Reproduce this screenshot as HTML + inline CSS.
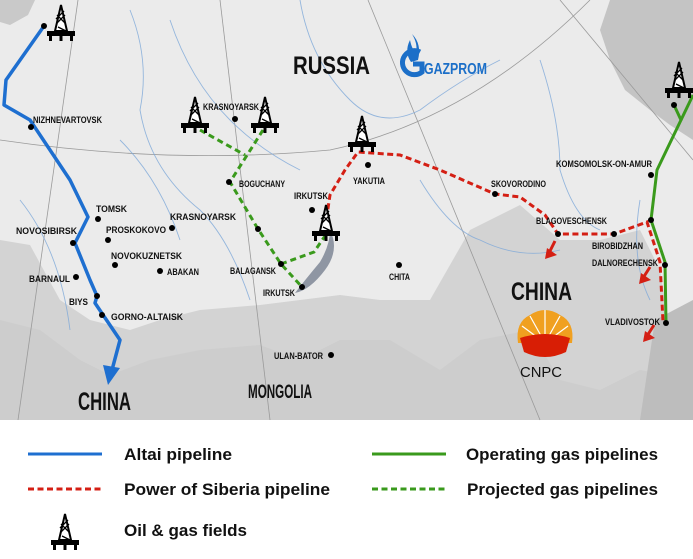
<!DOCTYPE html>
<html><head><meta charset="utf-8"><style>
html,body{margin:0;padding:0;background:#fff;}
svg{display:block;}
.l{font-family:"Liberation Sans",sans-serif;font-weight:bold;font-size:9.5px;fill:#111;}
.big{font-family:"Liberation Sans",sans-serif;font-weight:bold;font-size:25px;fill:#111;}
.lg{font-family:"Liberation Sans",sans-serif;font-weight:bold;font-size:17px;fill:#111;}
</style></head><body>
<svg width="693" height="559" viewBox="0 0 693 559" xmlns="http://www.w3.org/2000/svg">
<defs>
<g id="rig">
<polygon points="-6,26 0,0 6,26" fill="#fff" stroke="#000" stroke-width="2"/>
<path d="M-4,18 L4,10 M-4,10 L4,18 M-3,22 L5,26 M-5,14 L3,6" stroke="#000" stroke-width="1.3"/>
<rect x="-14" y="26" width="28" height="5" fill="#000"/>
<rect x="-12" y="31" width="3" height="5" fill="#000"/>
<rect x="-1.5" y="31" width="3" height="5" fill="#000"/>
<rect x="9" y="31" width="3" height="5" fill="#000"/>
</g>
</defs>
<rect x="0" y="0" width="693" height="420" fill="#ebebeb"/>
<path d="M0,0 L35,0 L28,15 L10,25 L0,22 Z" fill="#c9c9c9"/>
<path d="M610,0 L693,0 L693,140 L670,125 L650,110 L625,90 L610,60 L600,30 Z" fill="#c4c4c4"/>
<path d="M0,240 L30,245 L60,300 L90,320 L130,330 L160,320 L200,310 L260,305 L300,300 L340,295 L380,300 L430,300 L470,230 L520,205 L560,240 L600,240 L640,230 L660,270 L670,330 L693,320 L693,420 L0,420 Z" fill="#d3d3d3"/>
<path d="M0,320 L40,330 L80,360 L110,375 L150,360 L200,350 L260,345 L300,360 L340,340 L390,340 L440,370 L480,340 L530,330 L560,380 L600,390 L640,370 L693,380 L693,420 L0,420 Z" fill="#cdcdcd"/>
<path d="M655,320 L693,300 L693,420 L640,420 Z" fill="#bdbdbd"/>
<g stroke="#9a9a9a" stroke-width="0.8" fill="none">
<path d="M0,140 Q170,165 330,150 Q470,120 590,0"/>
<path d="M78,0 L18,420"/>
<path d="M220,0 L270,420"/>
<path d="M368,0 L540,420"/>
<path d="M560,0 L693,160"/>
</g>
<g stroke="#7fa9d9" stroke-width="0.9" fill="none" opacity="0.8">
<path d="M130,10 Q150,60 140,110 Q150,170 200,210 Q230,240 250,300"/>
<path d="M170,20 Q190,80 230,120 Q260,150 300,170"/>
<path d="M300,0 Q310,60 350,100 Q380,130 420,110 Q460,80 500,60"/>
<path d="M420,180 Q450,230 480,240 Q520,260 560,250"/>
<path d="M540,60 Q560,120 560,170 Q575,220 600,230"/>
<path d="M20,200 Q60,250 70,330"/>
<path d="M120,140 Q160,180 180,240"/>
<path d="M640,200 Q630,260 650,300"/>
</g>
<path d="M330,230 Q340,250 325,270 Q310,290 295,293 Q305,280 320,262 Q330,245 330,230 Z" fill="#8f96a3"/>
<polyline points="44,26 6,80 4,105 30,120 70,180 88,217 75,243 90,280 97,296 95,303 120,340 112,370" fill="none" stroke="#1e6fd0" stroke-width="3.5" stroke-linejoin="round"/>
<polygon points="103,365 120,368 108,385" fill="#1e6fd0"/>
<g fill="none" stroke="#3a9a1c" stroke-width="3" stroke-dasharray="6,4">
<polyline points="200,130 245,155"/>
<polyline points="263,130 230,182 258,229 281,264 302,287"/>
<polyline points="281,264 314,252 325,236"/>
</g>
<polyline points="674,105 681,120 657,170 651,220 665,262 666,323" fill="none" stroke="#3a9a1c" stroke-width="3"/>
<polyline points="681,120 693,95" fill="none" stroke="#3a9a1c" stroke-width="3"/>
<polyline points="325,228 330,195 345,170 358,152 400,155 440,170 495,194 520,197 545,215 558,234 614,234 647,222 660,262 663,322" fill="none" stroke="#d41f14" stroke-width="3" stroke-dasharray="6,3.5"/>
<g fill="#d41f14">
<polygon points="547,248 557,255 545,259"/><path d="M555,241 L549,253" stroke="#d41f14" stroke-width="3"/>
<polygon points="641,273 651,280 639,284"/><path d="M650,267 L643,278" stroke="#d41f14" stroke-width="3"/>
<polygon points="645,331 655,338 643,342"/><path d="M654,325 L647,336" stroke="#d41f14" stroke-width="3"/>
</g>
<use href="#rig" transform="translate(61,5)"/>
<use href="#rig" transform="translate(195,97)"/>
<use href="#rig" transform="translate(265,97)"/>
<use href="#rig" transform="translate(362,116)"/>
<use href="#rig" transform="translate(326,205)"/>
<use href="#rig" transform="translate(679,62)"/>
<g fill="#000">
<circle cx="44" cy="26" r="3"/><circle cx="31" cy="127" r="3"/><circle cx="98" cy="219" r="3"/>
<circle cx="73" cy="243" r="3"/><circle cx="108" cy="240" r="3"/><circle cx="172" cy="228" r="3"/>
<circle cx="115" cy="265" r="3"/><circle cx="160" cy="271" r="3"/><circle cx="76" cy="277" r="3"/>
<circle cx="97" cy="296" r="3"/><circle cx="102" cy="315" r="3"/><circle cx="229" cy="182" r="3"/>
<circle cx="235" cy="119" r="3"/><circle cx="258" cy="229" r="3"/><circle cx="281" cy="264" r="3"/>
<circle cx="302" cy="287" r="3"/><circle cx="312" cy="210" r="3"/><circle cx="331" cy="355" r="3"/>
<circle cx="368" cy="165" r="3"/><circle cx="399" cy="265" r="3"/><circle cx="495" cy="194" r="3"/>
<circle cx="558" cy="234" r="3"/><circle cx="614" cy="234" r="3"/><circle cx="651" cy="175" r="3"/>
<circle cx="651" cy="220" r="3"/><circle cx="665" cy="265" r="3"/><circle cx="666" cy="323" r="3"/>
<circle cx="674" cy="105" r="3"/>
</g>
<g lengthAdjust="spacingAndGlyphs">
<text class="l" x="33" y="123" textLength="69" lengthAdjust="spacingAndGlyphs">NIZHNEVARTOVSK</text>
<text class="l" x="96" y="212" textLength="31" lengthAdjust="spacingAndGlyphs">TOMSK</text>
<text class="l" x="16" y="234" textLength="61" lengthAdjust="spacingAndGlyphs">NOVOSIBIRSK</text>
<text class="l" x="106" y="233" textLength="60" lengthAdjust="spacingAndGlyphs">PROSKOKOVO</text>
<text class="l" x="170" y="220" textLength="66" lengthAdjust="spacingAndGlyphs">KRASNOYARSK</text>
<text class="l" x="111" y="259" textLength="71" lengthAdjust="spacingAndGlyphs">NOVOKUZNETSK</text>
<text class="l" x="167" y="275" textLength="32" lengthAdjust="spacingAndGlyphs">ABAKAN</text>
<text class="l" x="29" y="282" textLength="41" lengthAdjust="spacingAndGlyphs">BARNAUL</text>
<text class="l" x="69" y="305" textLength="19" lengthAdjust="spacingAndGlyphs">BIYS</text>
<text class="l" x="111" y="320" textLength="72" lengthAdjust="spacingAndGlyphs">GORNO-ALTAISK</text>
<text class="l" x="203" y="110" textLength="56" lengthAdjust="spacingAndGlyphs">KRASNOYARSK</text>
<text class="l" x="239" y="187" textLength="46" lengthAdjust="spacingAndGlyphs">BOGUCHANY</text>
<text class="l" x="294" y="199" textLength="34" lengthAdjust="spacingAndGlyphs">IRKUTSK</text>
<text class="l" x="230" y="274" textLength="46" lengthAdjust="spacingAndGlyphs">BALAGANSK</text>
<text class="l" x="263" y="296" textLength="32" lengthAdjust="spacingAndGlyphs">IRKUTSK</text>
<text class="l" x="274" y="359" textLength="49" lengthAdjust="spacingAndGlyphs">ULAN-BATOR</text>
<text class="l" x="353" y="184" textLength="32" lengthAdjust="spacingAndGlyphs">YAKUTIA</text>
<text class="l" x="389" y="280" textLength="21" lengthAdjust="spacingAndGlyphs">CHITA</text>
<text class="l" x="491" y="187" textLength="55" lengthAdjust="spacingAndGlyphs">SKOVORODINO</text>
<text class="l" x="536" y="224" textLength="71" lengthAdjust="spacingAndGlyphs">BLAGOVESCHENSK</text>
<text class="l" x="592" y="249" textLength="51" lengthAdjust="spacingAndGlyphs">BIROBIDZHAN</text>
<text class="l" x="592" y="266" textLength="66" lengthAdjust="spacingAndGlyphs">DALNORECHENSK</text>
<text class="l" x="605" y="325" textLength="55" lengthAdjust="spacingAndGlyphs">VLADIVOSTOK</text>
<text class="l" x="556" y="167" textLength="96" lengthAdjust="spacingAndGlyphs">KOMSOMOLSK-ON-AMUR</text>
<text class="big" x="293" y="74" textLength="77" lengthAdjust="spacingAndGlyphs">RUSSIA</text>
<text class="big" x="511" y="300" textLength="61" lengthAdjust="spacingAndGlyphs">CHINA</text>
<text class="big" x="78" y="410" textLength="53" lengthAdjust="spacingAndGlyphs">CHINA</text>
<text class="big" x="248" y="398" style="font-size:19px" textLength="64" lengthAdjust="spacingAndGlyphs">MONGOLIA</text>
</g>
<path d="M420,52 A12,12 0 1 0 422,72 L422,64 L413,64" fill="none" stroke="#1c6fc8" stroke-width="5"/>
<path d="M411,62 Q404,52 410,40 Q412,50 416,52 Q418,44 412,34 Q422,44 418,60 Z" fill="#1c6fc8"/>
<text x="424" y="74" textLength="63" lengthAdjust="spacingAndGlyphs" style="font-family:'Liberation Sans',sans-serif;font-weight:bold;font-size:16px;fill:#1c6fc8">GAZPROM</text>
<path d="M518,343 Q515,322 530,315 Q545,305 560,315 Q575,322 572,343 Z" fill="#f0a020"/>
<g stroke="#fff" stroke-width="1.2"><path d="M545,343 L522,326 M545,343 L530,316 M545,343 L545,310 M545,343 L560,316 M545,343 L568,326"/></g>
<path d="M520,338 Q545,330 570,338 L566,352 Q545,362 524,352 Z" fill="#d81e05"/>
<text x="520" y="377" textLength="42" lengthAdjust="spacingAndGlyphs" style="font-family:'Liberation Sans',sans-serif;font-size:15px;fill:#111">CNPC</text>
<line x1="28" y1="454" x2="102" y2="454" stroke="#1e6fd0" stroke-width="3"/>
<line x1="28" y1="489" x2="102" y2="489" stroke="#d41f14" stroke-width="3" stroke-dasharray="6,3.5"/>
<line x1="372" y1="454" x2="446" y2="454" stroke="#3a9a1c" stroke-width="3"/>
<line x1="372" y1="489" x2="446" y2="489" stroke="#3a9a1c" stroke-width="3" stroke-dasharray="6,3.5"/>
<use href="#rig" transform="translate(65,514)"/>
<text class="lg" x="124" y="460" textLength="108" lengthAdjust="spacingAndGlyphs">Altai pipeline</text>
<text class="lg" x="124" y="495" textLength="206" lengthAdjust="spacingAndGlyphs">Power of Siberia pipeline</text>
<text class="lg" x="124" y="536" textLength="123" lengthAdjust="spacingAndGlyphs">Oil &amp; gas fields</text>
<text class="lg" x="466" y="460" textLength="192" lengthAdjust="spacingAndGlyphs">Operating gas pipelines</text>
<text class="lg" x="467" y="495" textLength="191" lengthAdjust="spacingAndGlyphs">Projected gas pipelines</text>
</svg>
</body></html>
